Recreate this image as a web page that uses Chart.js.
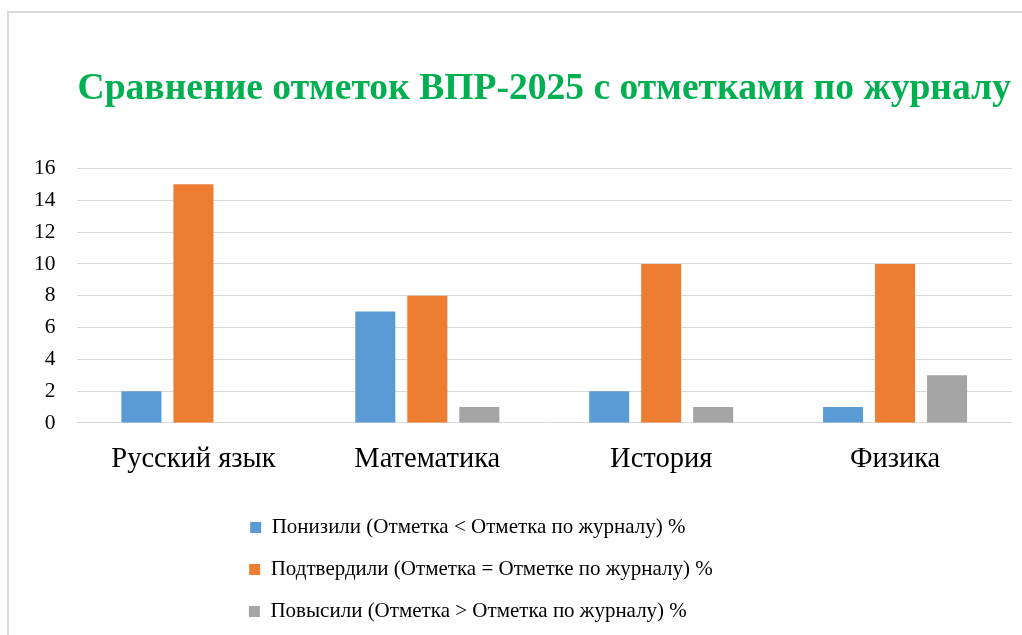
<!DOCTYPE html>
<html>
<head>
<meta charset="utf-8">
<script src="https://cdn.jsdelivr.net/npm/chart.js@4.4.1/dist/chart.umd.min.js"></script>
<style>
  html, body { margin: 0; padding: 0; background: #fff; overflow: hidden; }
  #frame { position: absolute; left: 7px; top: 11px; width: 1100px; height: 700px; border: 2px solid #d9d9d9; }
  #wrap { position: absolute; left: 0; top: 0; width: 1022px; height: 635px; }
</style>
</head>
<body>
<div id="frame"></div>
<div id="wrap"><canvas id="chart" width="1022" height="635"></canvas></div>
<script>
const subjects = ['Русский язык', 'Математика', 'История', 'Физика'];
const lowered = [2, 7, 2, 1];
const confirmed = [15, 8, 10, 10];
const raised = [0, 1, 1, 3];
const seriesNames = [
    'Понизили (Отметка < Отметка по журналу) %',
    'Подтвердили (Отметка = Отметке по журналу) %',
    'Повысили (Отметка > Отметка по журналу) %'
];
const yTicks = [0, 2, 4, 6, 8, 10, 12, 14, 16];

const serif = "'Liberation Serif', 'Times New Roman', serif";
const legendFontSize = 21;
const legendTextWidth = 502; // pad every label to this so rows line up on the left

function padLabels(chart) {
    const items = Chart.defaults.plugins.legend.labels.generateLabels(chart);
    const ctx = chart.ctx;
    ctx.save();
    ctx.font = `${legendFontSize}px ${serif}`;
    items.forEach(item => {
        let t = item.text;
        while (ctx.measureText(t).width < legendTextWidth) t += ' ';
        item.text = t;
    });
    ctx.restore();
    return items;
}

const ctx = document.getElementById('chart').getContext('2d');
new Chart(ctx, {
    type: 'bar',
    data: {
        labels: subjects,
        datasets: [
            { label: seriesNames[0], data: lowered, backgroundColor: '#5B9BD5' },
            { label: seriesNames[1], data: confirmed, backgroundColor: '#ED7D31' },
            { label: seriesNames[2], data: raised, backgroundColor: '#A5A5A5' }
        ]
    },
    options: {
        responsive: false,
        animation: false,
        datasets: { bar: { barPercentage: 0.77, categoryPercentage: 0.667 } },
        layout: { padding: { top: 12, left: 13, right: 10, bottom: 3 } },
        scales: {
            x: {
                grid: { display: false, drawTicks: false },
                border: { display: false },
                ticks: { color: '#000', padding: 22.4, font: { family: serif, size: 28.5, lineHeight: 0.99 } }
            },
            y: {
                min: 0,
                max: 16,
                afterBuildTicks: axis => { axis.ticks = yTicks.map(v => ({ value: v })); },
                grid: { color: '#d9d9d9', lineWidth: 1, drawTicks: false },
                border: { display: false },
                ticks: { color: '#000', padding: 21, font: { family: serif, size: 21.5 } }
            }
        },
        plugins: {
            title: {
                display: true,
                fullSize: false,
                text: 'Сравнение отметок ВПР-2025 с отметками по журналу',
                color: '#00B050',
                font: { family: serif, size: 37.6, weight: 'bold' },
                padding: { top: 55, bottom: 56.3 }
            },
            legend: {
                position: 'bottom',
                labels: {
                    color: '#000',
                    boxWidth: 11,
                    boxHeight: 11,
                    padding: 21,
                    font: { family: serif, size: legendFontSize },
                    generateLabels: padLabels
                }
            },
            tooltip: { enabled: false }
        }
    }
});
</script>
</body>
</html>
